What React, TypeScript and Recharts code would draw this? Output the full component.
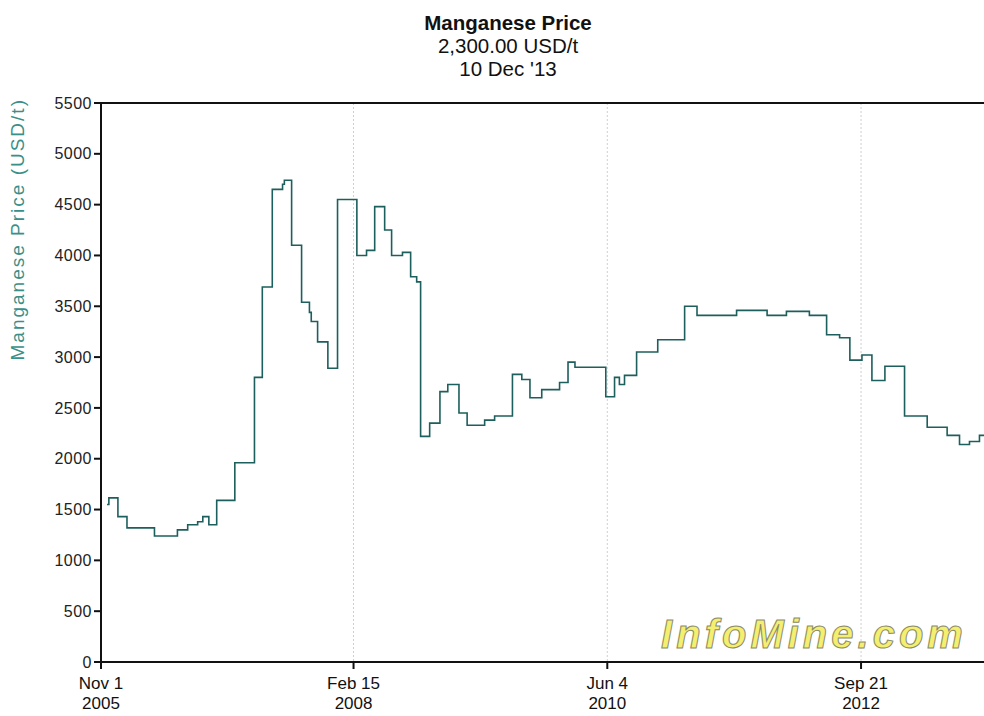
import { LineChart, Line, XAxis, YAxis, CartesianGrid, ReferenceLine } from "recharts";

// step dates (start of each price level) and the price in USD/t
const priceDates = [
  "2005-11-21", "2005-11-27", "2005-12-27", "2006-01-26", "2006-04-27", "2006-07-12",
  "2006-08-15", "2006-09-17", "2006-10-04", "2006-10-24", "2006-11-19", "2007-01-18",
  "2007-03-24", "2007-04-19", "2007-05-22", "2007-06-25", "2007-07-01", "2007-07-25",
  "2007-08-27", "2007-09-22", "2007-09-28", "2007-10-19", "2007-11-22", "2007-12-24",
  "2008-02-26", "2008-03-29", "2008-04-25", "2008-05-28", "2008-06-20", "2008-07-26",
  "2008-08-22", "2008-09-11", "2008-09-24", "2008-10-24", "2008-11-27", "2008-12-23",
  "2009-01-29", "2009-02-25", "2009-04-24", "2009-05-27", "2009-07-25", "2009-08-25",
  "2009-09-21", "2009-10-30", "2009-12-28", "2010-01-25", "2010-02-17", "2010-05-30",
  "2010-06-28", "2010-07-14", "2010-07-31", "2010-09-09", "2010-11-18", "2011-02-15",
  "2011-03-28", "2011-08-06", "2011-11-15", "2012-01-18", "2012-04-03", "2012-05-30",
  "2012-07-12", "2012-08-15", "2012-09-24", "2012-10-27", "2012-12-09", "2013-02-12",
  "2013-04-28", "2013-07-03", "2013-08-13", "2013-09-15", "2013-10-18", "2013-12-10",
];

const prices = [
  1550, 1615, 1430, 1320, 1240, 1300,
  1350, 1380, 1430, 1350, 1590, 1960,
  2800, 3690, 4650, 4700, 4740, 4100,
  3540, 3440, 3350, 3150, 2890, 4550,
  4000, 4050, 4480, 4250, 4000, 4030,
  3790, 3740, 2220, 2350, 2660, 2730,
  2450, 2330, 2380, 2420, 2830, 2780,
  2600, 2680, 2750, 2950, 2900, 2610,
  2800, 2730, 2820, 3050, 3170, 3500,
  3410, 3460, 3410, 3450, 3410, 3220,
  3190, 2970, 3020, 2770, 2910, 2420,
  2310, 2230, 2140, 2170, 2230, 2300,
];

const xTickDates = ["2005-11-01", "2008-02-15", "2010-06-04", "2012-09-21"];
const xTickLabels = [["Nov 1", "2005"], ["Feb 15", "2008"], ["Jun 4", "2010"], ["Sep 21", "2012"]];
const yTicks = [0, 500, 1000, 1500, 2000, 2500, 3000, 3500, 4000, 4500, 5000, 5500];

const toTime = (s: string) => Date.parse(s + "T00:00:00Z");

const data = priceDates.map((d, i) => ({ t: toTime(d), price: prices[i] }));
const xTicks = xTickDates.map(toTime);

const FONT = "'Liberation Sans', Arial, sans-serif";

function DateTick({ x, y, payload }: any) {
  const idx = xTicks.indexOf(payload.value);
  const [top, bottom] = idx >= 0 ? xTickLabels[idx] : ["", ""];
  return (
    <text x={x} y={y} textAnchor="middle" fill="#111" fontSize={17} fontFamily={FONT}>
      <tspan x={x} dy={18}>{top}</tspan>
      <tspan x={x} dy={20}>{bottom}</tspan>
    </text>
  );
}

export default function App() {
  return (
    <div
      style={{
        position: "fixed",
        left: 0,
        top: 0,
        width: 984,
        height: 716,
        overflow: "hidden",
        background: "#fff",
        fontFamily: FONT,
      }}
    >
      <div style={{ position: "absolute", left: 388, width: 240, top: 11, textAlign: "center", color: "#111", lineHeight: "23px" }}>
        <div style={{ fontWeight: 700, fontSize: 20.5 }}>Manganese Price</div>
        <div style={{ fontSize: 20.5 }}>2,300.00 USD/t</div>
        <div style={{ fontSize: 20.5 }}>10 Dec '13</div>
      </div>
      <div style={{ position: "absolute", top: 0, left: 0 }}>
        <LineChart width={1010} height={716} data={data} margin={{ top: 103, right: 10, bottom: 0, left: 0 }}>
          <CartesianGrid horizontal={false} stroke="#cfcfcf" strokeDasharray="2 2" />
          <XAxis
            dataKey="t"
            type="number"
            scale="time"
            domain={[toTime("2005-11-01"), toTime("2013-12-25")]}
            ticks={xTicks}
            tick={<DateTick />}
            height={54}
            stroke="#111"
            strokeWidth={2}
            tickSize={7}
            interval={0}
          />
          <YAxis
            type="number"
            domain={[0, 5500]}
            ticks={yTicks}
            width={101}
            stroke="#111"
            strokeWidth={2}
            tickSize={7}
            tick={{ fill: "#222", fontSize: 16, fontFamily: FONT, letterSpacing: 0.5 }}
            label={{
              value: "Manganese Price (USD/t)",
              angle: -90,
              position: "insideLeft",
              dx: 12,
              dy: -22,
              fill: "#3a8f88",
              fontSize: 19,
              letterSpacing: 2,
              fontFamily: FONT,
            }}
          />
          <ReferenceLine y={5500} stroke="#111" strokeWidth={2} />
          <text
            x={814}
            y={648}
            textAnchor="middle"
            fontSize={40}
            fontWeight={700}
            fontStyle="italic"
            fontFamily={FONT}
            letterSpacing={4}
            fill="#f4ef6e"
            stroke="#8a8a6a"
            strokeWidth={1}
          >
            InfoMine.com
          </text>
          <Line
            type="stepAfter"
            dataKey="price"
            stroke="#1d5f5c"
            strokeWidth={1.6}
            dot={false}
            isAnimationActive={false}
          />
        </LineChart>
      </div>
    </div>
  );
}
